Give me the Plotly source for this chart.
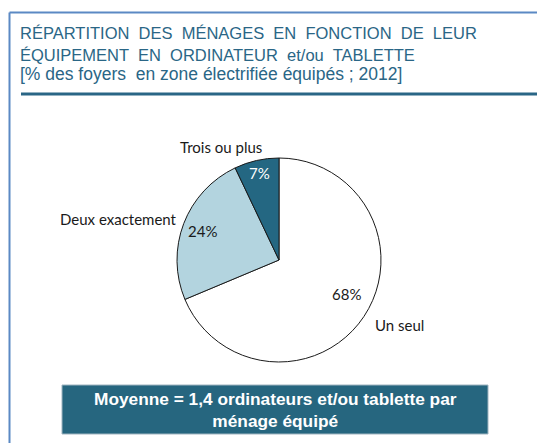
import math
import plotly.graph_objects as go

categories = ["Un seul", "Deux exactement", "Trois ou plus"]
values = [68, 24, 7]
pct_labels = ["68%", "24%", "7%"]
slice_colors = ["#ffffff", "#b3d4df", "#246782"]
pct_colors = ["#1a1a1a", "#1a1a1a", "#ffffff"]

title_line1 = "RÉPARTITION  DES  MÉNAGES  EN  FONCTION  DE  LEUR"
title_line2 = "ÉQUIPEMENT  EN  ORDINATEUR  et/ou  TABLETTE"
subtitle = "[% des foyers  en zone électrifiée équipés ; 2012]"
box_text = "Moyenne = 1,4 ordinateurs et/ou tablette par<br>ménage équipé"

W, H = 537, 443
cx, cy, R = 279, 260, 102

def px(x):
    return x / W

def py(y):
    return 1 - y / H

fig = go.Figure()
fig.add_trace(go.Pie(
    labels=categories, values=values, sort=False, direction="clockwise",
    rotation=0, textinfo="none", hoverinfo="label+percent",
    marker=dict(colors=slice_colors, line=dict(color="#1a1a1a", width=1)),
    domain=dict(x=[px(cx - R), px(cx + R)], y=[py(cy + R), py(cy - R)]),
    showlegend=False,
))

annotations = []
total = sum(values)
cum = 0
lab_font = "Lato, sans-serif"
name_style = [
    dict(xanchor="left", yanchor="middle", xshift=9, yshift=-9),
    dict(xanchor="right", yanchor="middle", xshift=-5, yshift=5),
    dict(xanchor="center", yanchor="middle", xshift=-36, yshift=14),
]
for i, v in enumerate(values):
    mid = (cum + v / 2) / total * 2 * math.pi
    cum += v
    dx, dy = math.sin(mid), -math.cos(mid)
    r_in = 0.80 * R if i < 2 else 0.87 * R
    annotations.append(dict(
        x=px(cx + dx * r_in), y=py(cy + dy * r_in), xref="paper", yref="paper",
        text=pct_labels[i], showarrow=False,
        font=dict(family=lab_font, size=15, color=pct_colors[i]),
    ))
    annotations.append(dict(
        x=px(cx + dx * R), y=py(cy + dy * R), xref="paper", yref="paper",
        text=categories[i], showarrow=False,
        font=dict(family=lab_font, size=15, color="#1a1a1a"),
        **name_style[i],
    ))

title_color = "#2a6686"
tfont = "Liberation Sans, Arial"
annotations += [
    dict(x=px(18), y=py(33.5), xref="paper", yref="paper", text=title_line1,
         showarrow=False, xanchor="left", yanchor="middle",
         font=dict(family=tfont, size=16.5, color=title_color)),
    dict(x=px(18), y=py(54.5), xref="paper", yref="paper", text=title_line2,
         showarrow=False, xanchor="left", yanchor="middle",
         font=dict(family=tfont, size=16.5, color=title_color)),
    dict(x=px(18), y=py(74), xref="paper", yref="paper", text=subtitle,
         showarrow=False, xanchor="left", yanchor="middle",
         font=dict(family=tfont, size=17.5, color=title_color)),
    dict(x=px(275), y=py(409.5), xref="paper", yref="paper", text=box_text,
         showarrow=False, xanchor="center", yanchor="middle",
         font=dict(family=tfont, size=17.3, color="#ffffff", weight="bold")),
]

shapes = [
    dict(type="line", xref="paper", yref="paper", x0=px(9.5), x1=px(9.5),
         y0=py(12.5), y1=0, line=dict(color="#5b89c4", width=2)),
    dict(type="line", xref="paper", yref="paper", x0=px(9.5), x1=1,
         y0=py(12.5), y1=py(12.5), line=dict(color="#5b89c4", width=2)),
    dict(type="line", xref="paper", yref="paper", x0=px(21), x1=1,
         y0=py(94), y1=py(94), line=dict(color="#2a6686", width=3)),
    dict(type="rect", xref="paper", yref="paper", x0=px(62), x1=px(488),
         y0=py(434), y1=py(385), fillcolor="#26667f",
         line=dict(color="#9fb4c0", width=1), layer="below"),
]

fig.update_layout(
    width=W, height=H, margin=dict(l=0, r=0, t=0, b=0),
    paper_bgcolor="#ffffff", plot_bgcolor="#ffffff",
    annotations=annotations, shapes=shapes,
)
fig.write_html(
    "out.html",
    config={"displayModeBar": False},
    post_script="document.body.style.margin='0';document.body.style.overflow='hidden';",
)
